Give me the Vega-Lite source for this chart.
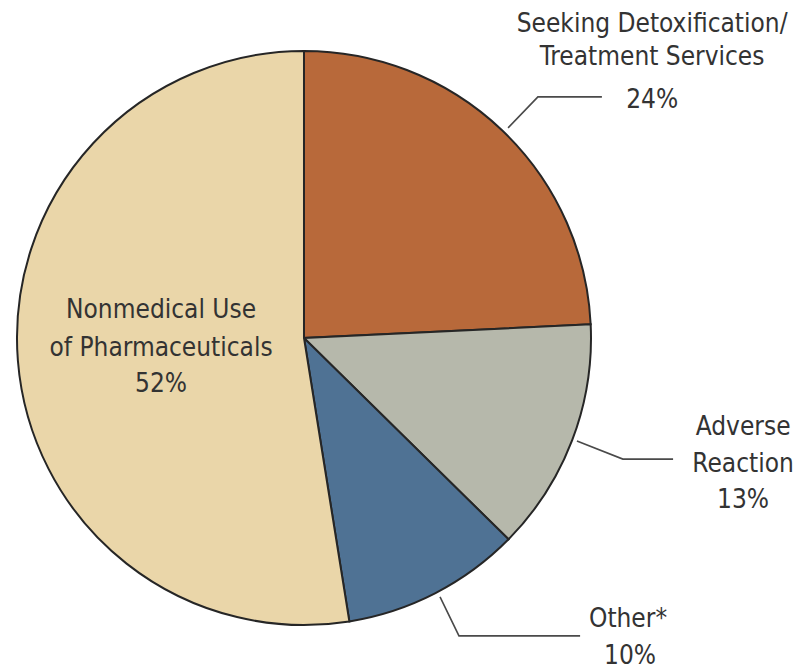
{
  "$schema": "https://vega.github.io/schema/vega-lite/v6.json",
  "width": 802,
  "height": 670,
  "autosize": {"type": "fit", "contains": "padding"},
  "padding": 0,
  "background": "white",
  "config": {"view": {"stroke": null}},
  "datasets": {
    "slices": [
      {"slot": 1, "category": "Seeking Detoxification/Treatment Services", "share": 24},
      {"slot": 2, "category": "Adverse Reaction", "share": 13},
      {"slot": 3, "category": "Other*", "share": 10},
      {"slot": 4, "category": "Nonmedical Use of Pharmaceuticals", "share": 52}
    ],
    "leaders": [
      {"label": "Seeking", "pt": 1, "px": 71.1, "py": 73.2},
      {"label": "Seeking", "pt": 2, "px": 81.5, "py": 84.0},
      {"label": "Seeking", "pt": 3, "px": 103.8, "py": 84.0},
      {"label": "Adverse", "pt": 1, "px": 95.1, "py": -35.9},
      {"label": "Adverse", "pt": 2, "px": 111.1, "py": -42.2},
      {"label": "Adverse", "pt": 3, "px": 128.6, "py": -42.2},
      {"label": "Other", "pt": 1, "px": 47.4, "py": -90.2},
      {"label": "Other", "pt": 2, "px": 54.0, "py": -103.8},
      {"label": "Other", "pt": 3, "px": 96.2, "py": -103.8}
    ],
    "labels": [
      {"text": "Seeking Detoxification/", "px": 121.3, "py": 106.6},
      {"text": "Treatment Services", "px": 121.3, "py": 95.1},
      {"text": "24%", "px": 121.3, "py": 80.1},
      {"text": "Adverse", "px": 153.0, "py": -33.8},
      {"text": "Reaction", "px": 153.0, "py": -46.7},
      {"text": "13%", "px": 153.0, "py": -59.2},
      {"text": "Other*", "px": 112.9, "py": -100.7},
      {"text": "10%", "px": 113.6, "py": -113.6},
      {"text": "Nonmedical Use", "px": -49.8, "py": 6.97},
      {"text": "of Pharmaceuticals", "px": -49.8, "py": -6.27},
      {"text": "52%", "px": -49.8, "py": -18.8}
    ]
  },
  "layer": [
    {
      "data": {"name": "slices"},
      "mark": {"type": "arc", "radius": 287, "stroke": "#262626", "strokeWidth": 2},
      "encoding": {
        "x": {"datum": 0, "type": "quantitative", "scale": {"domain": [-105.92, 173.52], "nice": false, "zero": false}, "axis": null},
        "y": {"datum": 0, "type": "quantitative", "scale": {"domain": [-115.68, 117.77], "nice": false, "zero": false}, "axis": null},
        "theta": {"field": "share", "type": "quantitative", "stack": true},
        "order": {"field": "slot", "type": "quantitative", "sort": "ascending"},
        "color": {
          "field": "category",
          "type": "nominal",
          "scale": {
            "domain": ["Seeking Detoxification/Treatment Services", "Adverse Reaction", "Other*", "Nonmedical Use of Pharmaceuticals"],
            "range": ["#B8693A", "#B6B8AB", "#4F7294", "#EAD6A9"]
          },
          "legend": null
        }
      }
    },
    {
      "data": {"name": "leaders"},
      "mark": {"type": "line", "color": "#4a4a4a", "strokeWidth": 1.6},
      "encoding": {
        "x": {"field": "px", "type": "quantitative"},
        "y": {"field": "py", "type": "quantitative"},
        "detail": {"field": "label"},
        "order": {"field": "pt"}
      }
    },
    {
      "data": {"name": "labels"},
      "mark": {
        "type": "text",
        "align": "center",
        "baseline": "alphabetic",
        "font": "DejaVu Sans Condensed, sans-serif",
        "fontSize": 26,
        "color": "#333333"
      },
      "encoding": {
        "x": {"field": "px", "type": "quantitative"},
        "y": {"field": "py", "type": "quantitative"},
        "text": {"field": "text"}
      }
    }
  ]
}
